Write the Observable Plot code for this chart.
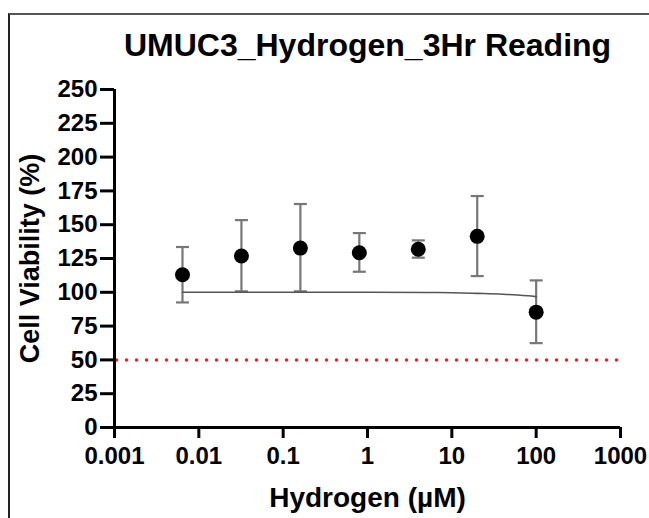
<!DOCTYPE html>
<html>
<head>
<meta charset="utf-8">
<script src="https://cdn.jsdelivr.net/npm/d3@7"></script>
<script src="https://cdn.jsdelivr.net/npm/@observablehq/plot@0.6"></script>
<style>
  html, body { margin: 0; padding: 0; background: #fff; }
  #wrap { position: relative; width: 649px; height: 518px; overflow: hidden; background: #fff; }
  #frame { position: absolute; left: 8px; top: 13px; width: 660px; height: 520px;
           border-top: 2px solid #555; border-left: 2px solid #222; }
  #chart { position: absolute; left: 0; top: 0; }
</style>
</head>
<body>
<div id="wrap"><div id="frame"></div><div id="chart"></div></div>
<script>
const titleText = "UMUC3_Hydrogen_3Hr Reading";
const xLabel = "Hydrogen (\u00B5M)";
const yLabel = "Cell Viability (%)";

const concentration = [0.0064, 0.032, 0.16, 0.8, 4, 20, 100];
const viability     = [113.0, 126.8, 132.7, 129.3, 131.8, 141.4, 85.3];
const errUpper      = [133.5, 153.4, 165.3, 143.8, 138.4, 171.2, 108.8];
const errLower      = [92.5, 100.7, 100.7, 115.2, 125.6, 112.0, 62.4];

const fitX = [0.0064, 0.1, 1, 5, 10, 20, 40, 60, 80, 100];
const fitY = [100, 100, 100, 99.9, 99.7, 99.2, 98.6, 98.0, 97.4, 96.8];

const thresholdY = [50];
const thresholdRange = [0.001, 1000];

const xTicks = [0.001, 0.01, 0.1, 1, 10, 100, 1000];
const xTickLabels = ["0.001", "0.01", "0.1", "1", "10", "100", "1000"];
const yTicks = [0, 25, 50, 75, 100, 125, 150, 175, 200, 225, 250];

const points = concentration.map((c, i) => ({c, v: viability[i], hi: errUpper[i], lo: errLower[i]}));
const fit = fitX.map((x, i) => ({x, y: fitY[i]}));

const xLabelFor = (d) => {
  const k = xTicks.findIndex(t => Math.abs(Math.log10(t) - Math.log10(d)) < 1e-6);
  return k >= 0 ? xTickLabels[k] : "";
};

const capSymbol = {
  draw(ctx, size) {
    const w = Math.sqrt(size / Math.PI);
    ctx.moveTo(-w, 0);
    ctx.lineTo(w, 0);
  }
};

const font = "'Liberation Sans', Arial, Helvetica, sans-serif";
const errColor = "#777";

const chart = Plot.plot({
  width: 649,
  height: 518,
  marginTop: 89,
  marginBottom: 91,
  marginLeft: 114,
  marginRight: 29,
  style: {background: "transparent", fontFamily: font, color: "#000"},
  x: {type: "log", domain: [0.001, 1000], label: null},
  y: {domain: [0, 250], label: null},
  marks: [
    Plot.axisX({ticks: xTicks, tickFormat: xLabelFor, tickSize: 11, tickPadding: 8,
      fontSize: 24, fontWeight: "bold", strokeWidth: 3, stroke: "#000", fill: "#000"}),
    Plot.axisY({ticks: yTicks, tickSize: 14, tickPadding: 3,
      fontSize: 24, fontWeight: "bold", strokeWidth: 3, stroke: "#000", fill: "#000"}),
    Plot.ruleY(thresholdY, {x1: thresholdRange[0], x2: thresholdRange[1], stroke: "#ff1a1a",
      strokeWidth: 3.5, strokeDasharray: "0,10", strokeLinecap: "round", strokeDashoffset: -2.5}),
    Plot.ruleX(points, {x: "c", y1: "lo", y2: "hi", stroke: errColor, strokeWidth: 2.2}),
    Plot.dot(points, {x: "c", y: "hi", symbol: capSymbol, r: 6.5, stroke: errColor, strokeWidth: 2.2}),
    Plot.dot(points, {x: "c", y: "lo", symbol: capSymbol, r: 6.5, stroke: errColor, strokeWidth: 2.2}),
    Plot.line(fit, {x: "x", y: "y", stroke: "#555", strokeWidth: 1.6, curve: "monotone-x"}),
    Plot.dot(points, {x: "c", y: "v", r: 7.5, fill: "#000", stroke: "none"}),
    Plot.ruleX([0.001], {y1: 0, y2: 250, stroke: "#000", strokeWidth: 3}),
    Plot.ruleY([0], {x1: 0.001, x2: 1000, stroke: "#000", strokeWidth: 3}),
    Plot.text([titleText], {frameAnchor: "top", dy: -56, fontSize: 32, fontWeight: "bold", fill: "#000"}),
    Plot.text([xLabel], {frameAnchor: "bottom", dy: 79, fontSize: 28, fontWeight: "bold", fill: "#000"}),
    Plot.text([yLabel], {frameAnchor: "left", dx: -84, rotate: -90, textAnchor: "middle",
      fontSize: 27, fontWeight: "bold", fill: "#000"})
  ]
});
document.getElementById("chart").appendChild(chart);
</script>
</body>
</html>
